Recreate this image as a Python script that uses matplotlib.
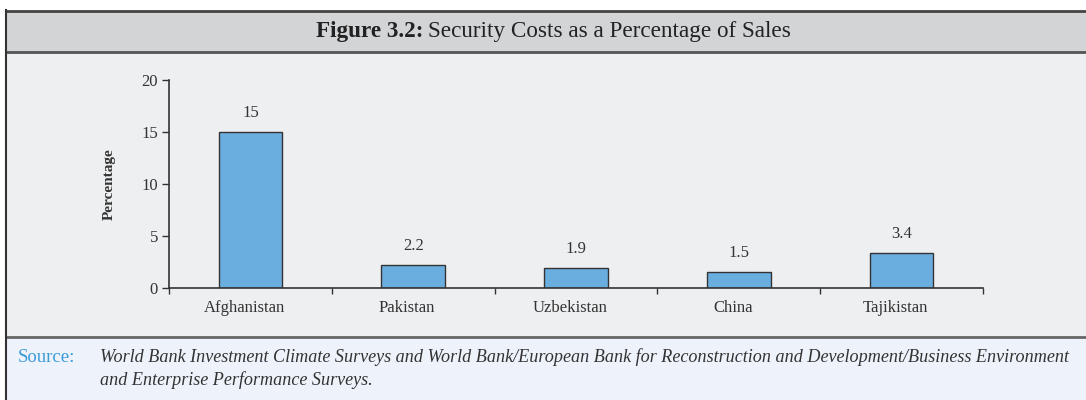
import matplotlib.pyplot as plt
from matplotlib.patches import Rectangle
from matplotlib.lines import Line2D
from matplotlib.transforms import ScaledTranslation

countries = ["Afghanistan", "Pakistan", "Uzbekistan", "China", "Tajikistan"]
security_cost = [15, 2.2, 1.9, 1.5, 3.4]
value_labels = ["15", "2.2", "1.9", "1.5", "3.4"]
y_ticks = [0, 5, 10, 15, 20]

W, H = 1086, 400
plt.rcParams['font.family'] = ['Liberation Serif', 'DejaVu Serif']

fig = plt.figure(figsize=(W / 100, H / 100), dpi=100)
fig.patch.set_facecolor('white')


def px_rect(x0, y0, x1, y1, color):
    # rectangle given in pixel coords (top-left origin)
    fig.add_artist(Rectangle((x0 / W, 1 - y1 / H), (x1 - x0) / W, (y1 - y0) / H,
                             transform=fig.transFigure, facecolor=color,
                             edgecolor='none', zorder=0))


def px_line(x0, y0, x1, y1, lw, color='#555555'):
    fig.add_artist(Line2D([x0 / W, x1 / W], [1 - y0 / H, 1 - y1 / H],
                          transform=fig.transFigure, color=color, lw=lw, zorder=1))


# panel backgrounds
px_rect(6, 11, W, 52, '#d3d4d6')
px_rect(6, 52, W, 337, '#eeeff1')
px_rect(6, 337, W, H, '#eef3fb')

# frame lines
px_line(6, 11, W, 11, 2.0, '#444444')
px_line(6, 52, W, 52, 2.0, '#555555')
px_line(6, 337, W, 337, 2.0, '#666666')
px_line(6, 10, 6, H, 1.5, '#333333')

# title: bold prefix then regular text
t1 = fig.text(316 / W, 1 - 31 / H, "Figure 3.2:", ha='left', va='center',
              fontsize=16.7, fontweight='bold', color='#222222')
fig.canvas.draw()
bb = t1.get_window_extent()
fig.text((bb.x1 + 5) / W, 1 - 31 / H, "Security Costs as a Percentage of Sales",
         ha='left', va='center', fontsize=16.7, color='#222222')

# main axes
ax = fig.add_axes([169 / W, (H - 288) / H, (983 - 169) / W, (288 - 80) / H])
ax.set_facecolor('none')
x = list(range(len(countries)))
ax.bar(x, security_cost, width=0.39, color='#6aaee0', edgecolor='#333333', linewidth=1.0, zorder=2)

for xi, v, lab in zip(x, security_cost, value_labels):
    ax.annotate(lab, (xi, v), xytext=(0, 8), textcoords='offset points',
                ha='center', va='bottom', fontsize=12, color='#333333')

ax.set_xlim(-0.5, len(countries) - 0.5)
ax.set_ylim(0, 20)
ax.set_yticks(y_ticks)
ax.set_yticklabels([str(t) for t in y_ticks])
ax.set_xticks(x)
ax.set_xticklabels(countries)
ax.set_xticks([i - 0.5 for i in range(len(countries) + 1)], minor=True)
ax.tick_params(axis='x', which='major', length=0, pad=9, labelsize=12, labelcolor='#333333')
ax.tick_params(axis='x', which='minor', length=4, width=1, direction='out', color='#333333')
ax.tick_params(axis='y', length=5, width=1, direction='out', pad=3, labelsize=12,
               labelcolor='#333333', color='#333333')
# category labels sit slightly left of the bar centres in the original
shift = ScaledTranslation(-6 / 100, 0, fig.dpi_scale_trans)
for lbl in ax.get_xticklabels():
    lbl.set_transform(lbl.get_transform() + shift)
for s in ['top', 'right']:
    ax.spines[s].set_visible(False)
for s in ['left', 'bottom']:
    ax.spines[s].set_color('#333333')
    ax.spines[s].set_linewidth(1.2)
ax.set_ylabel("Percentage", fontsize=11, fontweight='bold', color='#333333', labelpad=18)

# source
fig.text(18 / W, 1 - 357 / H, "Source:", ha='left', va='center', fontsize=13.5, color='#3a9ad9')
fig.text(100 / W, 1 - 357 / H,
         "World Bank Investment Climate Surveys and World Bank/European Bank for Reconstruction and Development/Business Environment",
         ha='left', va='center', fontsize=13.1, style='italic', color='#333333')
fig.text(100 / W, 1 - 380 / H, "and Enterprise Performance Surveys.",
         ha='left', va='center', fontsize=13.1, style='italic', color='#333333')

fig.savefig('out.png', dpi=100)
